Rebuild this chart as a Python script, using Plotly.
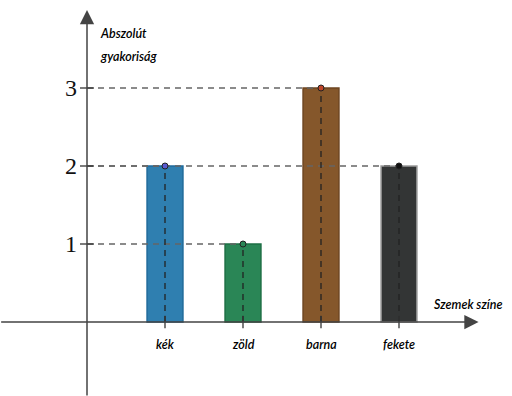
import plotly.graph_objects as go

# Eye colour frequencies
categories = ["kék", "zöld", "barna", "fekete"]
counts = [2, 1, 3, 2]
y_ticks = [1, 2, 3]
y_tick_labels = ["1", "2", "3"]
x_title = "Szemek színe"
y_title_lines = ["Abszolút", "gyakoriság"]

bar_fill = ["#2f7fb0", "#2a8656", "#85572b", "#333535"]
bar_edge = ["#1f6a9a", "#1d6f44", "#6e4520", "#9a9a9a"]
dot_fill = ["#5a5ad0", "#2a8656", "#c0452a", "#111111"]

xs = list(range(1, len(categories) + 1))
label_font = dict(family="Lato, sans-serif", size=12.5, color="#000", style="italic",
                  weight=600)

fig = go.Figure()

# bars
fig.add_trace(go.Bar(
    x=xs, y=counts, width=0.46,
    marker=dict(color=bar_fill, line=dict(color=bar_edge, width=1.5)),
    hoverinfo="skip",
))

# horizontal guides from the y axis to each bar top
for x, v in zip(xs, counts):
    fig.add_trace(go.Scatter(
        x=[0, x], y=[v, v], mode="lines",
        line=dict(color="#666", width=1.3, dash="6px,5px"), hoverinfo="skip",
    ))
# vertical guides inside the bars
for x, v in zip(xs, counts):
    fig.add_trace(go.Scatter(
        x=[x, x], y=[0, v], mode="lines",
        line=dict(color="#222", width=1.3, dash="6px,5px"), hoverinfo="skip",
    ))

# points on the bar tops
fig.add_trace(go.Scatter(
    x=xs, y=counts, mode="markers",
    marker=dict(size=6, color=dot_fill, line=dict(color="#222", width=1)),
    hoverinfo="skip",
))

# tick crosses
fig.add_trace(go.Scatter(
    x=[0] * len(y_ticks), y=y_ticks, mode="markers",
    marker=dict(symbol="line-ew", size=10, line=dict(color="#333", width=1.3)),
    hoverinfo="skip",
))
fig.add_trace(go.Scatter(
    x=xs, y=[0] * len(xs), mode="markers",
    marker=dict(symbol="line-ns", size=9, line=dict(color="#333", width=1.3)),
    hoverinfo="skip",
))

annotations = []
# axes with arrowheads
annotations.append(dict(x=5.02, y=0, ax=-1.12, ay=0, xref="x", yref="y", axref="x", ayref="y",
                        text="", showarrow=True, arrowhead=2, arrowsize=1.9, arrowwidth=1.5,
                        arrowcolor="#444"))
annotations.append(dict(x=0, y=4.0, ax=0, ay=-0.96, xref="x", yref="y", axref="x", ayref="y",
                        text="", showarrow=True, arrowhead=2, arrowsize=1.9, arrowwidth=1.5,
                        arrowcolor="#444"))
# y tick labels
for t, lab in zip(y_ticks, y_tick_labels):
    annotations.append(dict(x=-0.2, y=t, xref="x", yref="y", text=lab, showarrow=False,
                            font=dict(family="Liberation Serif, serif", size=24, color="#111")))
# category labels
for x, c in zip(xs, categories):
    annotations.append(dict(x=x, y=-0.29, xref="x", yref="y", text=c, showarrow=False,
                            font=label_font))
# axis titles
for i, line in enumerate(y_title_lines):
    annotations.append(dict(x=0.14, y=3.7 - 0.29 * i, xref="x", yref="y", text=line,
                            showarrow=False, xanchor="left", font=label_font))
annotations.append(dict(x=4.42, y=0.22, xref="x", yref="y", text=x_title, showarrow=False,
                        xanchor="left", font=label_font))

fig.update_layout(
    width=512, height=396,
    margin=dict(l=0, r=0, t=0, b=0),
    paper_bgcolor="white", plot_bgcolor="white",
    showlegend=False,
    xaxis=dict(range=[-87 / 78, 425 / 78], visible=False, fixedrange=True),
    yaxis=dict(range=[-74 / 78, 322 / 78], visible=False, fixedrange=True),
    annotations=annotations,
)

fig.write_html("out.html")
